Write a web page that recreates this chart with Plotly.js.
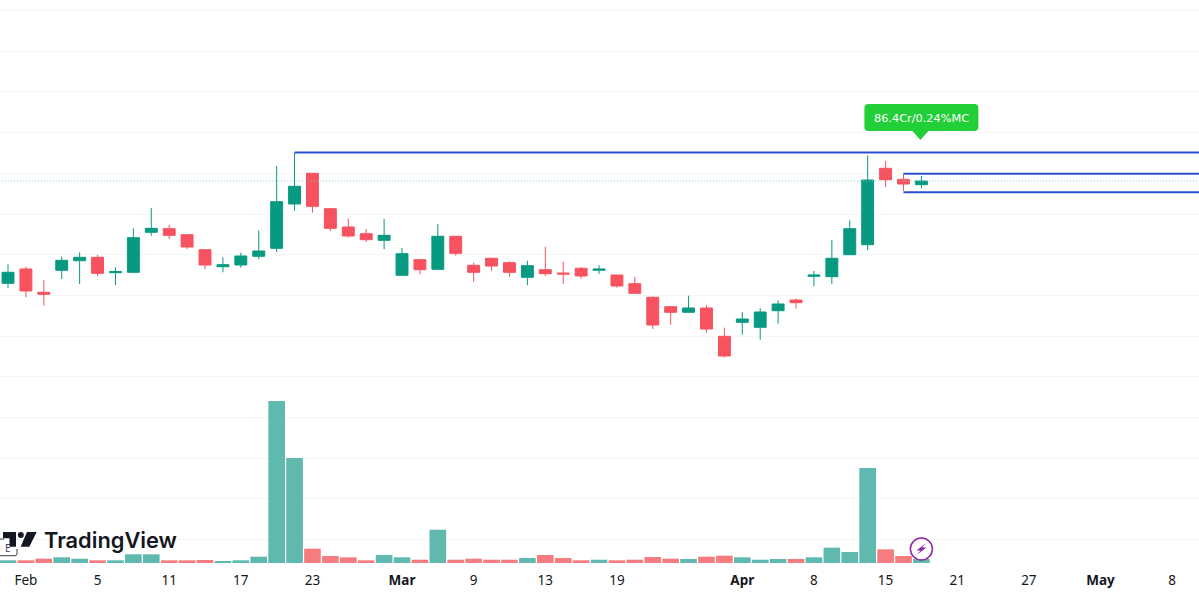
<!DOCTYPE html>
<html>
<head>
<meta charset="utf-8">
<script src="https://cdn.plot.ly/plotly-3.0.1.min.js"></script>
<style>html,body{margin:0;padding:0;background:#fff}#chart{width:1199px;height:593px}</style>
</head>
<body>
<div id="chart"></div>
<script>
const session = [0,1,2,3,4,5,6,7,8,9,10,11,12,13,14,15,16,17,18,19,20,21,22,23,24,25,26,27,28,29,30,31,32,33,34,35,36,37,38,39,40,41,42,43,44,45,46,47,48,49,50,51];
const openP  = [316.7,331,307.7,329.7,339.3,342.7,327.3,327.7,367.7,371.3,365.3,350.3,333.3,335,343.7,351.7,396,426.7,391.3,373,366.3,359.7,324.7,340.3,330.7,363.7,334.7,341.7,337.3,322.7,330.3,327,331.7,329.7,325,316.3,302.7,293.3,287.7,292,263.7,277.7,272.7,289.3,300,323.7,323.3,345.3,355.3,431.7,420.7,415.3];
const highP  = [335.7,333.3,320,343.3,347.7,345,332.7,371.7,392,375.3,365.3,350.3,342.7,347.3,369.7,434,447.3,426.7,391.3,381.3,371,381,352,340.3,376,363.7,337.3,342.3,338.7,339.3,353.3,338.3,333,335,325,323,303.7,293.3,304.3,294.7,272.3,288,291.7,299.7,301.3,329,360,379.7,444.7,439,426.3,424];
const lowP   = [311.7,302.7,294.3,321,316,324,315,327.7,364.3,361,350.7,330.7,327.7,332.3,340.7,348,389.3,387.3,369,362.3,358,350.7,324.7,325.7,330.7,344.3,318.3,329,323.3,314.7,324,316,321.3,326,312.3,306,271,275.3,287.7,267.3,242.3,265.3,260.3,276.3,291.3,313.7,316,345.3,349.7,413,409,411.7];
const closeP = [327.7,309,305.7,339.7,342.7,326.7,328.3,362.3,371.7,364.7,353,335,335.3,344,349,398.3,413.7,393.7,371.7,364,360.3,364.7,346.3,330.3,363.7,346.7,327.7,334,327.7,334.3,326.3,326,324,331,314,306.7,275,287.7,292,271,244,281,288,296,297.3,325,341.7,371.3,420,420.3,416,419];
const volume = [2.7,2.7,4.3,5.7,4.3,2.7,2.7,8.7,8.7,2.7,2.7,3,2,2.7,6.3,162,105,14.3,7,5.7,2.7,8,5.7,3.3,33.3,3.3,4.3,3.3,3.3,5,8,5,2.7,3.3,2.7,3.3,6,4.3,4,6.3,7.3,5.7,3.3,4,4,5.7,15.3,11,95,13.7,7,4];
const tickSessions = [1,5,9,13,17,22,26,30,34,41,45,49,53,57,61,65];
const tickLabels = ['Feb','5','11','17','23','<b>Mar</b>','9','13','19','<b>Apr</b>','8','15','21','27','<b>May</b>','8'];
const levelTop = 447.5, levelUpper = 426.3, levelLower = 407.7, lastClose = 419;
const xEnd = 66.5;
const UP = '#089981', DOWN = '#f7525f', VOL_UP = '#5fb9ae', VOL_DOWN = '#f77c80', BLUE = '#2a50d0';

const volColors = openP.map((o, i) => closeP[i] >= o ? VOL_UP : VOL_DOWN);

const traces = [
  {type:'scatter', mode:'lines', x:[-1, xEnd], y:[lastClose, lastClose], line:{color:'#8fcbc1', width:1, dash:'1px,2px'}, hoverinfo:'skip', showlegend:false},
  {type:'bar', x:session, y:volume, yaxis:'y2', width:0.93, marker:{color:volColors, line:{width:0}}, hoverinfo:'skip', showlegend:false},
  {type:'candlestick', x:session, open:openP, high:highP, low:lowP, close:closeP,
    increasing:{line:{color:UP, width:1}, fillcolor:UP},
    decreasing:{line:{color:DOWN, width:1}, fillcolor:DOWN},
    whiskerwidth:0, hoverinfo:'skip', showlegend:false},
  {type:'scatter', mode:'lines', x:[16, xEnd], y:[levelTop, levelTop], line:{color:BLUE, width:2}, hoverinfo:'skip', showlegend:false},
  {type:'scatter', mode:'lines', x:[50, xEnd], y:[levelUpper, levelUpper], line:{color:BLUE, width:2}, hoverinfo:'skip', showlegend:false},
  {type:'scatter', mode:'lines', x:[50, xEnd], y:[levelLower, levelLower], line:{color:BLUE, width:2}, hoverinfo:'skip', showlegend:false}
];

const layout = {
  width:1199, height:593,
  margin:{l:0, r:0, t:0, b:30, pad:0},
  paper_bgcolor:'#fff', plot_bgcolor:'#fff',
  showlegend:false, boxgap:0.05, barmode:'overlay',
  font:{family:'"Noto Sans", sans-serif', color:'#131722', size:13},
  xaxis:{range:[-0.447, xEnd], tickmode:'array', tickvals:tickSessions, ticktext:tickLabels,
    showgrid:false, zeroline:false, showline:false, ticks:'', rangeslider:{visible:false},
    tickfont:{size:13.5, color:'#131722'}, ticklabelstandoff:7, fixedrange:true},
  yaxis:{range:[37, 600], tick0:386, dtick:40.7, tickmode:'linear', showgrid:true, gridcolor:'#f4f5f7', gridwidth:1,
    zeroline:false, showticklabels:false, ticks:'', showline:false, fixedrange:true},
  yaxis2:{range:[0, 563], overlaying:'y', side:'right', showgrid:false, zeroline:false, showticklabels:false, ticks:'', fixedrange:true},
  shapes:[
    {type:'path', xref:'x', yref:'y', xsizemode:'pixel', ysizemode:'pixel', xanchor:51, yanchor:460,
      path:'M-1,0 L-9,9 L-53,9 Q-57,9 -57,13 L-57,32 Q-57,36 -53,36 L53,36 Q57,36 57,32 L57,13 Q57,9 53,9 L7,9 Z',
      fillcolor:'#22cf38', line:{width:0}},
    {type:'circle', xref:'x', yref:'y', xsizemode:'pixel', ysizemode:'pixel', xanchor:51, yanchor:51,
      x0:-11, x1:11, y0:-11, y1:11, fillcolor:'#fff', line:{color:'#8e24aa', width:1.5}},
    {type:'path', xref:'x', yref:'y', xsizemode:'pixel', ysizemode:'pixel', xanchor:51, yanchor:51,
      path:'M5,6 L-5,-1.5 L-0.8,-1.5 L-5,-6 L5,1.5 L0.8,1.5 Z', fillcolor:'#8e24aa', line:{width:0}},
    {type:'path', xref:'paper', yref:'paper', xsizemode:'pixel', ysizemode:'pixel', xanchor:0, yanchor:0,
      path:'M16,16.3 L9.5,16.3 L9.5,24.7 L3,24.7 L3,31 L16,31 Z', fillcolor:'#131722', line:{width:0}},
    {type:'path', xref:'paper', yref:'paper', xsizemode:'pixel', ysizemode:'pixel', xanchor:0, yanchor:0,
      path:'M29.3,16.3 L20.7,16.3 L27,31 L36.7,31 Z', fillcolor:'#131722', line:{width:0}},
    {type:'circle', xref:'paper', yref:'paper', xsizemode:'pixel', ysizemode:'pixel', xanchor:0, yanchor:0,
      x0:17.8, x1:23.8, y0:25, y1:31, fillcolor:'#131722', line:{width:0}},
    {type:'path', xref:'paper', yref:'paper', xsizemode:'pixel', ysizemode:'pixel', xanchor:0, yanchor:0,
      path:'M0,7.3 L15,7.3 Q17,7.3 17,9.3 L17,14', fillcolor:'rgba(0,0,0,0)', line:{color:'#3a3f4b', width:1}},
    {type:'path', xref:'paper', yref:'paper', xsizemode:'pixel', ysizemode:'pixel', xanchor:0, yanchor:0,
      path:'M0,24 L4,24', fillcolor:'rgba(0,0,0,0)', line:{color:'#3a3f4b', width:1}}
  ],
  annotations:[
    {x:51, y:460, xref:'x', yref:'y', yshift:22, text:'86.4Cr/0.24%MC', showarrow:false,
      font:{family:'"DejaVu Sans", sans-serif', size:11.3, color:'#fff'}, xanchor:'center', yanchor:'middle'},
    {x:42/1199, y:0, xref:'paper', yref:'paper', xanchor:'left', yanchor:'bottom', yshift:8, text:'TradingView', showarrow:false,
      font:{family:'Inter, sans-serif', size:21.8, color:'#131722', weight:600}},
    {x:8/1199, y:0, xref:'paper', yref:'paper', xanchor:'center', yanchor:'middle', yshift:15, text:'E', showarrow:false,
      font:{size:10, color:'#3a3f4b'}}
  ]
};
Plotly.newPlot('chart', traces, layout, {displayModeBar:false, staticPlot:true});
</script>
</body>
</html>
